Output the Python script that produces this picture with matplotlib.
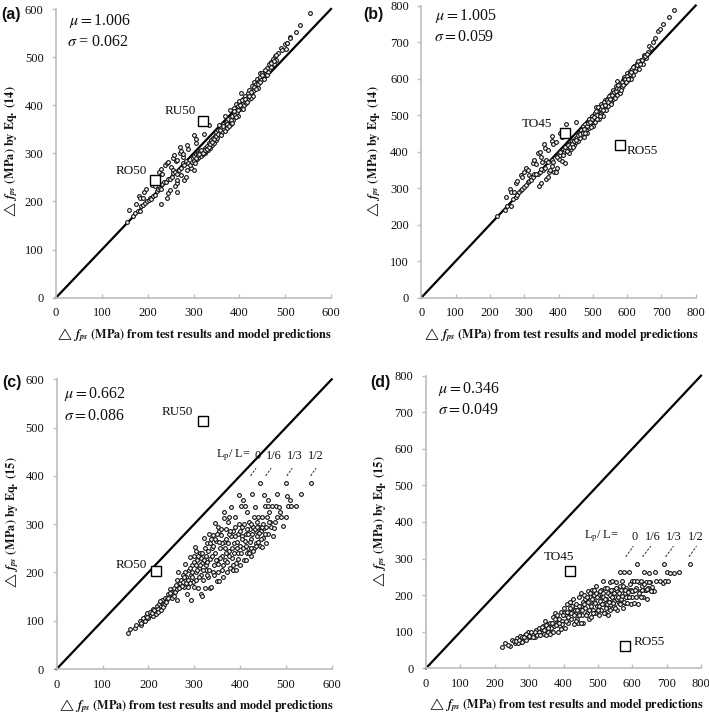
#!/usr/bin/env python3
"""
Predicted vs measured stress increase for four panels (a)-(d)
"""

import numpy as np
import matplotlib
matplotlib.use('Agg')
import matplotlib.pyplot as plt

plt.rcParams['font.family'] = ['Liberation Serif', 'DejaVu Serif']
plt.rcParams['mathtext.fontset'] = 'stix'

# Values: (test/model, equation)
a_points = [
    (160, 183), (175, 195), (180, 212), (183, 207), (190, 207), (192, 220), (196, 225), (210, 234),
    (215, 232), (225, 262), (228, 268), (232, 258), (238, 275), (242, 280), (245, 283), (250, 272),
    (255, 265), (255, 290), (257, 296), (262, 285), (265, 287), (270, 313), (270, 300), (273, 305),
    (276, 293), (278, 298), (285, 318), (288, 310), (300, 338), (305, 330), (306, 322), (323, 340),
    (333, 359), (229, 194), (243, 207), (245, 218), (248, 224), (263, 220), (260, 232), (265, 238),
    (265, 245), (280, 245), (283, 250), (272, 256), (285, 265), (300, 265), (295, 270),
    (155, 158), (168, 170), (172, 175), (178, 180), (184, 181), (186, 190), (190, 192), (194, 196),
    (198, 200), (202, 204), (205, 208), (208, 206), (212, 212), (216, 214), (220, 222), (222, 226),
    (226, 228), (230, 226), (232, 236), (236, 240), (240, 240), (244, 246), (248, 246), (252, 250),
    (256, 260), (260, 262), (264, 258), (268, 266), (272, 270), (276, 280), (280, 275), (284, 284),
    (288, 280), (292, 275), (296, 282), (298, 290), (300, 285), (302, 295), (304, 280), (306, 298),
    (308, 288), (310, 300), (312, 292), (314, 304), (316, 295), (318, 302), (320, 298), (322, 308),
    (324, 300), (326, 312), (328, 304), (330, 316), (332, 308), (334, 322), (336, 312), (338, 328),
    (340, 318), (342, 332), (344, 322), (346, 336), (348, 328), (350, 344), (352, 332), (354, 348),
    (355, 358), (358, 340), (360, 352), (362, 344), (364, 362), (366, 350), (368, 378), (370, 358),
    (372, 368), (374, 352), (376, 372), (378, 362), (380, 390), (382, 360), (384, 378), (386, 370),
    (388, 395), (390, 380), (392, 402), (394, 386), (396, 398), (398, 378), (400, 408), (402, 392),
    (404, 425), (406, 395), (408, 412), (410, 400), (412, 420), (414, 405), (416, 416), (418, 425),
    (420, 412), (422, 432), (424, 418), (426, 415), (428, 440), (430, 430), (432, 448), (434, 436),
    (436, 445), (438, 455), (440, 436), (442, 450), (444, 466), (446, 458), (448, 452), (450, 468),
    (452, 460), (455, 472), (458, 465), (460, 478), (462, 470), (465, 485), (468, 480), (470, 490),
    (473, 496), (476, 485), (478, 502), (480, 495), (484, 508), (490, 518), (494, 514), (500, 528),
    (502, 516), (505, 530), (510, 542), (523, 553), (533, 567), (555, 592),
    (305, 290), (309, 296), (313, 298), (317, 306), (321, 300), (325, 306), (329, 310), (333, 314),
    (337, 320), (341, 324), (345, 330), (349, 336), (353, 340), (357, 348), (361, 338), (365, 356),
    (369, 346), (373, 360), (377, 356), (381, 370), (385, 364), (389, 388), (393, 376), (397, 390),
    (401, 400), (405, 410), (409, 392), (413, 412), (417, 406), (421, 420), (425, 428), (429, 420),
    (433, 438), (437, 434), (441, 444), (445, 448), (449, 462), (453, 454), (457, 474), (461, 462),
    (469, 488), (475, 492), (481, 505), (503, 530), (510, 540),
]

b_points = [
    (247, 275), (258, 298), (262, 290), (270, 290), (275, 315), (278, 320), (290, 335), (295, 330),
    (300, 345), (305, 355), (310, 350), (315, 335), (325, 370), (330, 378), (335, 365), (340, 395),
    (345, 400), (350, 385), (358, 420), (362, 410), (370, 405), (380, 443), (382, 430), (385, 420),
    (392, 425), (405, 450), (422, 475), (452, 480), (410, 440), (343, 307), (350, 313), (365, 325),
    (370, 330), (372, 345), (375, 350), (388, 343), (392, 345), (395, 355), (380, 360), (355, 350),
    (340, 340), (330, 335), (320, 330), (410, 375), (420, 370), (400, 380), (352, 372), (365, 378),
    (222, 224), (245, 240), (250, 250), (262, 252), (268, 270), (275, 275), (280, 282), (285, 290),
    (290, 296), (295, 298), (300, 302), (305, 308), (310, 316), (315, 320), (320, 322), (325, 330),
    (330, 340), (335, 338), (345, 345), (350, 352), (360, 356), (370, 372), (380, 376), (385, 372),
    (395, 385), (400, 395), (405, 392), (410, 400), (415, 398), (420, 405), (425, 412), (430, 395),
    (432, 420), (436, 408), (440, 430), (444, 418), (448, 435), (450, 425), (454, 440), (456, 428),
    (460, 452), (462, 436), (465, 460), (468, 445), (470, 470), (472, 455), (475, 440), (478, 475),
    (480, 460), (482, 450), (485, 480), (488, 465), (490, 490), (492, 472), (495, 480), (498, 498),
    (500, 470), (502, 488), (505, 505), (508, 492), (510, 522), (512, 500), (515, 510), (518, 490),
    (520, 518), (523, 505), (525, 530), (528, 512), (530, 498), (533, 525), (536, 540), (538, 515),
    (540, 528), (543, 548), (545, 526), (548, 540), (550, 555), (552, 535), (555, 560), (558, 545),
    (560, 570), (562, 550), (565, 560), (568, 580), (570, 555), (572, 592), (575, 570), (578, 560),
    (580, 585), (582, 575), (585, 578), (588, 595), (590, 585), (592, 605), (595, 590), (598, 600),
    (600, 615), (602, 595), (605, 610), (608, 620), (610, 600), (615, 625), (618, 610), (620, 635),
    (625, 630), (630, 642), (635, 625), (640, 650), (645, 640), (650, 665), (655, 655), (660, 672),
    (665, 690), (670, 685), (675, 700), (680, 712), (690, 730), (695, 735), (705, 750), (722, 768),
    (737, 787),
    (405, 400), (412, 392), (418, 412), (424, 402), (428, 418), (434, 412), (438, 422), (442, 412),
    (446, 428), (452, 432), (458, 445), (464, 448), (470, 452), (474, 462), (477, 450), (483, 470),
    (487, 478), (491, 482), (494, 466), (497, 490), (503, 496), (506, 482), (509, 510), (513, 490),
    (516, 522), (521, 498), (524, 518), (527, 525), (531, 515), (534, 536), (537, 528), (541, 540),
    (544, 535), (547, 552), (551, 545), (554, 530), (557, 555), (561, 562), (564, 548), (567, 565),
    (571, 575), (574, 582), (577, 572), (581, 568), (584, 590), (587, 582), (591, 598), (594, 600),
    (597, 590), (601, 608), (604, 600), (607, 612), (612, 618), (616, 632), (622, 622), (628, 636),
    (632, 648), (638, 640), (643, 652), (648, 658), (653, 662), (658, 666),
]

c_points = [
    (155, 75), (160, 82), (170, 85), (172, 92), (182, 100), (185, 92), (188, 100), (192, 105),
    (195, 110), (198, 115), (200, 105), (205, 112), (207, 120), (210, 125), (213, 115), (216, 120),
    (218, 130), (222, 125), (224, 135), (228, 130), (230, 142), (233, 135), (236, 148), (240, 145),
    (243, 155), (246, 150), (248, 165), (252, 155), (255, 168), (258, 160), (262, 185), (263, 142),
    (265, 170), (265, 200), (268, 178), (270, 170), (272, 185), (275, 180), (278, 170), (280, 200),
    (280, 218), (283, 190), (285, 155), (286, 170), (288, 205), (290, 232), (292, 195), (294, 142),
    (295, 215), (297, 180), (300, 170), (300, 235), (302, 252), (304, 200), (305, 185), (307, 225),
    (308, 168), (310, 210), (312, 240), (314, 195), (315, 155), (316, 152), (318, 220), (320, 185),
    (322, 272), (323, 168), (325, 235), (326, 205), (328, 260), (330, 190), (332, 280), (334, 168),
    (335, 228), (337, 170), (338, 250), (340, 200), (341, 278), (343, 215), (345, 240), (346, 302),
    (348, 265), (350, 182), (351, 295), (353, 218), (355, 182), (356, 250), (358, 278), (360, 205),
    (361, 235), (363, 190), (364, 312), (365, 262), (366, 325), (368, 225), (370, 290), (371, 200),
    (373, 305), (375, 245), (376, 315), (378, 210), (380, 275), (381, 335), (383, 230), (385, 205),
    (386, 260), (388, 315), (390, 295), (392, 220), (393, 250), (395, 280), (397, 300), (398, 360),
    (400, 215), (401, 255), (403, 337), (405, 295), (406, 350), (408, 225), (410, 265), (411, 337),
    (413, 280), (415, 240), (416, 325), (418, 250), (420, 305), (421, 290), (423, 235), (425, 270),
    (427, 362), (428, 295), (430, 315), (431, 250), (432, 335), (434, 260), (436, 305), (438, 275),
    (440, 315), (441, 295), (443, 255), (444, 385), (445, 285), (447, 252), (449, 315), (450, 272),
    (452, 360), (453, 292), (455, 337), (456, 260), (458, 315), (460, 337), (461, 280), (462, 350),
    (464, 325), (466, 305), (468, 295), (470, 337), (471, 275), (474, 292), (476, 305), (478, 337),
    (480, 362), (481, 315), (484, 335), (487, 325), (489, 315), (493, 297), (500, 315), (501, 385),
    (502, 359), (504, 337), (510, 350), (512, 337), (523, 337), (533, 362), (555, 385),
    (210, 110), (225, 140), (235, 132), (250, 160), (260, 175), (275, 195), (290, 210), (295, 190),
    (305, 245), (315, 230), (325, 215), (335, 260), (345, 270), (350, 225), (355, 285), (360, 260),
    (370, 240), (375, 280), (385, 285), (395, 240), (405, 275), (415, 290), (425, 250), (435, 285),
    (183, 95), (188, 106), (193, 100), (197, 108), (203, 118), (208, 115), (212, 122), (217, 113),
    (220, 118), (227, 122), (232, 128), (238, 138), (242, 148), (247, 158), (251, 148), (256, 152),
    (262, 165), (267, 168), (273, 172), (277, 190), (282, 178), (287, 185), (291, 178), (296, 200),
    (299, 222), (303, 215), (306, 205), (309, 235), (311, 190), (313, 215), (317, 240), (319, 205),
    (321, 225), (324, 250), (327, 195), (329, 222), (331, 245), (333, 205), (336, 270), (339, 235),
    (342, 255), (344, 195), (347, 225), (349, 280), (352, 200), (354, 262), (357, 230), (359, 290),
    (362, 215), (367, 250), (369, 270), (372, 222), (374, 260), (377, 235), (379, 285), (382, 250),
    (384, 215), (387, 240), (389, 275), (391, 205), (394, 262), (396, 228), (399, 285), (402, 240),
    (404, 270), (407, 250), (409, 300), (412, 225), (414, 255), (417, 280), (419, 240), (422, 262),
    (424, 300), (426, 280), (429, 245), (433, 290), (435, 255), (437, 295), (439, 262), (442, 282),
    (446, 270), (448, 295), (451, 300), (454, 280), (457, 295), (463, 305),
]

d_points = [
    (222, 57), (230, 68), (245, 62), (250, 78), (260, 70), (265, 82), (272, 88), (275, 72), (282, 78),
    (288, 92), (293, 82), (298, 98), (302, 85), (308, 95), (315, 88), (320, 105), (325, 95), (330, 110),
    (335, 100), (340, 115), (342, 95), (345, 130), (350, 92), (352, 120), (358, 105), (362, 125),
    (368, 140), (372, 115), (376, 150), (380, 125), (384, 100), (388, 135), (390, 115), (392, 155),
    (396, 130), (400, 165), (404, 110), (406, 145), (410, 175), (412, 125), (416, 155), (420, 180),
    (423, 135), (426, 165), (428, 190), (430, 120), (434, 150), (436, 175), (440, 135), (442, 125),
    (445, 195), (448, 160), (450, 205), (453, 145), (456, 180), (458, 125), (460, 200), (463, 165),
    (466, 190), (468, 150), (470, 210), (473, 135), (476, 175), (478, 195), (480, 140), (483, 215),
    (485, 160), (488, 200), (490, 185), (492, 150), (495, 225), (498, 170), (500, 200), (502, 145),
    (505, 185), (508, 215), (510, 160), (512, 195), (515, 238), (518, 175), (520, 150), (522, 220),
    (525, 190), (528, 147), (530, 205), (532, 165), (534, 235), (536, 180), (538, 198), (540, 240),
    (542, 165), (545, 215), (548, 185), (550, 195), (552, 235), (555, 160), (557, 210), (560, 178),
    (563, 225), (565, 262), (567, 190), (570, 240), (572, 165), (575, 262), (578, 205), (580, 178),
    (583, 220), (586, 195), (590, 262), (592, 215), (595, 175), (598, 238), (600, 195), (603, 210),
    (606, 240), (610, 195), (615, 285), (618, 175), (620, 235), (623, 210), (626, 240), (628, 225),
    (632, 195), (635, 262), (638, 215), (640, 235), (643, 190), (646, 220), (650, 260), (652, 235),
    (655, 218), (660, 212), (665, 262), (668, 240), (680, 238), (690, 232), (692, 285), (695, 238),
    (700, 262), (705, 240), (710, 260), (722, 260), (735, 262), (767, 285), (663, 210),
    (240, 65), (255, 75), (268, 68), (278, 85), (290, 78), (296, 90), (305, 100), (312, 92), (318, 85),
    (328, 100), (338, 108), (348, 118), (356, 98), (365, 110), (374, 135), (382, 145), (395, 120),
    (402, 150), (414, 140), (424, 170), (432, 160), (444, 145), (452, 170), (462, 190), (472, 180),
    (482, 190), (494, 205), (504, 170), (516, 195), (526, 175), (536, 200), (546, 170), (556, 190),
    (568, 215), (582, 195), (596, 215), (612, 220), (625, 195), (640, 215),
    (262, 75), (270, 78), (280, 72), (285, 85), (292, 95), (300, 88), (310, 85), (316, 98), (322, 92),
    (332, 90), (336, 112), (344, 105), (354, 110), (360, 95), (366, 125), (370, 100), (378, 118),
    (386, 125), (392, 108), (398, 145), (408, 130), (410, 155), (418, 165), (422, 150), (430, 145),
    (436, 130), (438, 160), (446, 170), (451, 125), (455, 160), (460, 175), (464, 145), (468, 195),
    (474, 160), (477, 205), (481, 170), (486, 150), (489, 215), (493, 178), (497, 195), (501, 160),
    (506, 210), (511, 175), (514, 205), (517, 150), (521, 190), (524, 165), (527, 220), (531, 180),
    (535, 160), (537, 215), (541, 195), (544, 178), (547, 205), (551, 165), (554, 220), (558, 195),
    (561, 205), (564, 175), (569, 198), (573, 225), (576, 180), (579, 215), (584, 178), (588, 208),
    (591, 195), (594, 230), (599, 210), (604, 178), (608, 215), (614, 240), (619, 205), (629, 215),
    (634, 230), (644, 218), (649, 235), (654, 210), (658, 222),
]

# Reference specimens: name, x, y
a_refs = [('RU50', 320, 367), ('RO50', 215, 244)]
b_refs = [('TO45', 418, 452), ('RO55', 578, 417)]
c_refs = [('RU50', 320, 513), ('RO50', 217, 203)]
d_refs = [('TO45', 418, 265), ('RO55', 578, 62)]

ratio_labels = ['0', '1/6', '1/3', '1/2']


def draw_panel(rect, limit, points, refs, label_spots, stats, stats_spots):
    left, top, right, bottom = rect
    ax = fig.add_axes([left / W, 1 - bottom / H, (right - left) / W, (bottom - top) / H])
    ticks = np.arange(0, limit + 1, 100)
    ax.plot([0, limit], [0, limit], color='black', linewidth=1.6, clip_on=False, zorder=2)
    pts = np.array(points)
    ax.plot(pts[:, 0], pts[:, 1], 'o', markersize=2.7, markerfacecolor='white',
            markeredgecolor='#111111', markeredgewidth=0.8, linestyle='none', zorder=3)
    for (name, x, y), (tx, ty, ha) in zip(refs, label_spots):
        ax.plot([x], [y], 's', markersize=6.8, markerfacecolor='white',
                markeredgecolor='black', markeredgewidth=1.0, zorder=4)
        ax.text(tx, ty, name, ha=ha, va='center', fontsize=9.5, color='#111111')
    ax.text(stats_spots[0], stats_spots[1], stats[0], ha='left', va='center', fontsize=11.5, color='#111111')
    ax.text(stats_spots[2], stats_spots[3], stats[1], ha='left', va='center', fontsize=11.5, color='#111111')
    ax.set_xlim(0, limit)
    ax.set_ylim(0, limit)
    ax.set_xticks(ticks)
    ax.set_yticks(ticks)
    ax.spines['top'].set_visible(False)
    ax.spines['right'].set_visible(False)
    for side in ('left', 'bottom'):
        ax.spines[side].set_color('#bdbdbd')
        ax.spines[side].set_linewidth(1.2)
    ax.tick_params(axis='x', direction='in', length=3, width=1.0, color='#bdbdbd',
                   labelsize=9, pad=7, labelcolor='#111111')
    ax.tick_params(axis='y', direction='out', length=3, width=1.0, color='#bdbdbd',
                   labelsize=9, pad=6, labelcolor='#111111')
    ax.patch.set_alpha(0)
    return ax


def draw_ratio_marks(ax, lead_x, lead_y, text_x, text_y, lp_x):
    for i, name in enumerate(ratio_labels):
        ax.plot(lead_x[i], lead_y, color='#222222', linewidth=0.7, linestyle=(0, (2.5, 1.5)), zorder=2)
        ax.text(text_x[i], text_y, name, ha='center', va='center', fontsize=8.8, color='#111111')
    ax.text(lp_x, text_y, r'L$_{\mathrm{p}}$/ L=', ha='center', va='center', fontsize=8.8, color='#111111')


def outer_text(x_center, x_label_y, y_x, y_center, eq_text, tag, tag_x, tag_y):
    fig.text(x_center / W, 1 - x_label_y / H,
             r'$\mathit{\triangle}\,\mathbfit{f}_{\mathbfit{ps}}\ \mathbf{(MPa)\ from\ test\ results\ and\ model\ predictions}$',
             ha='center', va='center', fontsize=8.8, color='#111111')
    fig.text(y_x / W, 1 - y_center / H, eq_text, rotation=90,
             ha='center', va='center', fontsize=8.8, color='#111111')
    fig.text(tag_x / W, 1 - tag_y / H, tag, ha='center', va='center',
             fontsize=11.5, fontweight='bold', family='Liberation Sans', color='#111111')


W, H = 709, 715
fig = plt.figure(figsize=(W / 100, H / 100), dpi=100)

eq14 = r'$\mathit{\triangle}\,\mathbfit{f}_{\mathbfit{ps}}\ \mathbf{(\,MPa)\ by\ Eq.\ (14)}$'
eq15 = r'$\mathit{\triangle}\,\mathbfit{f}_{\mathbfit{ps}}\ \mathbf{(\,MPa)\ by\ Eq.\ (15)}$'

draw_panel((56, 9, 331, 297.7), 600, a_points, a_refs,
           [(305, 388, 'right'), (198, 263, 'right')],
           (r'$\mu = $1.006', r'$\sigma$ = 0.062'), (28, 576, 24, 531))
outer_text(194, 335, 11, 152, eq14, '(a)', 11, 14)

draw_panel((421.3, 5.5, 695.7, 297.7), 800, b_points, b_refs,
           [(383, 476, 'right'), (600, 402, 'left')],
           (r'$\mu = $1.005', r'$\sigma = $0.059'), (40, 771, 36, 714))
outer_text(561, 335, 374, 152, eq14, '(b)', 373, 15)

ax_c = draw_panel((56.7, 379.3, 331.7, 669), 600, c_points, c_refs,
                  [(298, 533, 'right'), (196, 215, 'right')],
                  (r'$\mu = $0.662', r'$\sigma = $0.086'), (17, 570, 17, 523))
draw_ratio_marks(ax_c, [[423, 435], [456, 468], [502, 514], [554, 566]], [400, 416],
                 [438, 474, 520, 566], 442, 385)
outer_text(196, 706, 12, 523, eq15, '(c)', 12, 382)

ax_d = draw_panel((426, 375.7, 701, 668.3), 800, d_points, d_refs,
                  [(387, 305, 'center'), (603, 73, 'left')],
                  (r'$\mu = $0.346', r'$\sigma = $0.049'), (36, 765, 36, 706))
draw_ratio_marks(ax_d, [[581, 603], [630, 654], [697, 720], [765, 787]], [305, 334],
                 [606, 660, 722, 785], 360, 509)
outer_text(566, 705, 380, 522, eq15, '(d)', 380, 382)

fig.savefig('out.png', dpi=100)
plt.close(fig)
